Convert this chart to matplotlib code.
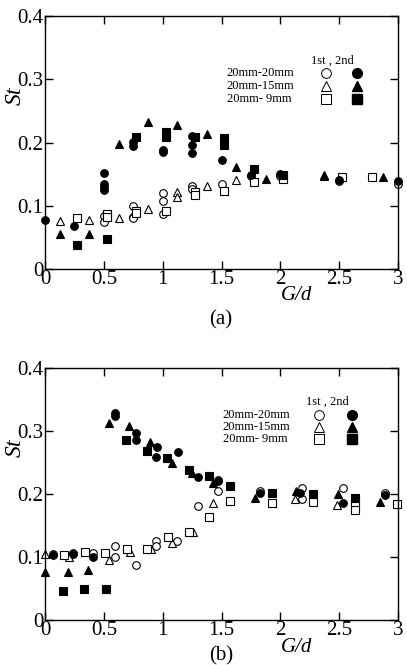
import matplotlib
matplotlib.use("Agg")
import matplotlib.pyplot as plt
from matplotlib.ticker import FuncFormatter

plt.rcParams['font.family'] = ['Liberation Serif', 'DejaVu Serif']

# ---------------- Panel (a) data ----------------
a_c1_x = [0.5, 0.5, 0.75, 0.75, 0.75, 1.0, 1.0, 1.0, 1.25, 1.25, 1.5, 1.75, 2.0, 2.5, 3.0]
a_c1_y = [0.084, 0.075, 0.100, 0.083, 0.080, 0.120, 0.107, 0.087, 0.131, 0.126, 0.134, 0.147, 0.147, 0.139, 0.134]
a_c2_x = [0.0, 0.25, 0.5, 0.5, 0.5, 0.5, 0.75, 0.75, 1.0, 1.0, 1.25, 1.25, 1.25, 1.5, 1.75, 2.0, 2.5, 3.0]
a_c2_y = [0.077, 0.068, 0.152, 0.134, 0.130, 0.125, 0.201, 0.194, 0.188, 0.185, 0.211, 0.196, 0.184, 0.172, 0.149, 0.150, 0.141, 0.139]
a_t1_x = [0.125, 0.375, 0.625, 0.875, 1.125, 1.125, 1.375, 1.625, 2.375]
a_t1_y = [0.076, 0.077, 0.081, 0.095, 0.121, 0.114, 0.131, 0.140, 0.147]
a_t2_x = [0.125, 0.375, 0.625, 0.875, 1.125, 1.375, 1.625, 1.875, 2.375, 2.875]
a_t2_y = [0.055, 0.056, 0.198, 0.232, 0.228, 0.213, 0.162, 0.143, 0.149, 0.146]
a_s1_x = [0.275, 0.525, 0.525, 0.775, 0.775, 1.025, 1.275, 1.275, 1.525, 1.775, 2.025, 2.525, 2.775]
a_s1_y = [0.080, 0.087, 0.082, 0.092, 0.088, 0.091, 0.121, 0.117, 0.124, 0.137, 0.142, 0.146, 0.145]
a_s2_x = [0.275, 0.525, 0.775, 1.025, 1.025, 1.275, 1.525, 1.525, 1.775, 2.025]
a_s2_y = [0.038, 0.048, 0.209, 0.216, 0.208, 0.209, 0.207, 0.196, 0.158, 0.149]

# ---------------- Panel (b) data ----------------
b_c1_x = [0.065, 0.241, 0.41, 0.595, 0.595, 0.77, 0.943, 0.943, 1.124, 1.297, 1.47, 1.47, 1.827, 2.18, 2.18, 2.535, 2.889]
b_c1_y = [0.105, 0.106, 0.107, 0.117, 0.100, 0.087, 0.126, 0.117, 0.126, 0.181, 0.222, 0.204, 0.204, 0.209, 0.192, 0.209, 0.202]
b_c2_x = [0.065, 0.241, 0.41, 0.595, 0.595, 0.773, 0.773, 0.949, 0.943, 1.127, 1.303, 1.47, 1.827, 2.167, 2.535, 2.889]
b_c2_y = [0.103, 0.104, 0.100, 0.329, 0.324, 0.297, 0.285, 0.275, 0.259, 0.266, 0.227, 0.220, 0.202, 0.201, 0.185, 0.198]
b_t1_x = [0.0, 0.2, 0.544, 0.722, 0.9, 1.076, 1.255, 1.43, 2.124, 2.478]
b_t1_y = [0.105, 0.100, 0.096, 0.108, 0.112, 0.123, 0.139, 0.186, 0.192, 0.183]
b_t2_x = [0.0, 0.198, 0.368, 0.544, 0.716, 0.892, 1.076, 1.25, 1.43, 1.784, 2.133, 2.49, 2.846]
b_t2_y = [0.076, 0.076, 0.079, 0.312, 0.308, 0.283, 0.250, 0.234, 0.217, 0.193, 0.204, 0.200, 0.187]
b_s1_x = [0.161, 0.34, 0.51, 0.694, 0.869, 1.048, 1.223, 1.396, 1.572, 1.926, 2.28, 2.634, 2.634, 2.988]
b_s1_y = [0.103, 0.108, 0.107, 0.112, 0.112, 0.131, 0.139, 0.164, 0.189, 0.186, 0.188, 0.184, 0.175, 0.184]
b_s2_x = [0.156, 0.334, 0.515, 0.688, 0.864, 1.034, 1.223, 1.396, 1.572, 1.926, 2.28, 2.634]
b_s2_y = [0.046, 0.049, 0.049, 0.286, 0.269, 0.257, 0.238, 0.228, 0.212, 0.201, 0.200, 0.194]

x_ticks = [0, 0.5, 1, 1.5, 2, 2.5, 3]
y_ticks = [0, 0.1, 0.2, 0.3, 0.4]
legend_rows = ["20mm-20mm", "20mm-15mm", "20mm- 9mm"]
legend_head = "1st , 2nd"
markers = ['o', '^', 's']

W, H = 407, 665
fig = plt.figure(figsize=(W / 100, H / 100), dpi=100)


def axes_px(left, top, right, bottom):
    return fig.add_axes([left / W, 1 - bottom / H, (right - left) / W, (bottom - top) / H])


ax_a = axes_px(45, 16, 398, 269)
ax_b = axes_px(45, 368, 398, 620)

fmt = FuncFormatter(lambda v, p: '%g' % v)

def style(ax):
    ax.set_xlim(0, 3)
    ax.set_ylim(0, 0.4)
    ax.set_xticks(x_ticks)
    ax.set_yticks(y_ticks)
    ax.xaxis.set_major_formatter(fmt)
    ax.yaxis.set_major_formatter(fmt)
    ax.tick_params(direction='in', length=6, width=1, top=True, right=True,
                   labelsize=15)
    ax.tick_params(axis='x', pad=1)
    ax.tick_params(axis='y', pad=1)
    for s in ax.spines.values():
        s.set_linewidth(1.0)
    for lab in ax.get_yticklabels() + ax.get_xticklabels():
        lab.set_clip_on(False)


def draw(ax, series):
    ms = 5.5
    for (x, y, m, filled) in series:
        ax.plot(x, y, linestyle='none', marker=m, markersize=ms,
                markerfacecolor='black' if filled else 'white',
                markeredgecolor='black', markeredgewidth=0.8, clip_on=False,
                zorder=3 if filled else 2)


draw(ax_a, [(a_c1_x, a_c1_y, 'o', False), (a_t1_x, a_t1_y, '^', False), (a_s1_x, a_s1_y, 's', False),
            (a_c2_x, a_c2_y, 'o', True), (a_t2_x, a_t2_y, '^', True), (a_s2_x, a_s2_y, 's', True)])
draw(ax_b, [(b_c1_x, b_c1_y, 'o', False), (b_t1_x, b_t1_y, '^', False), (b_s1_x, b_s1_y, 's', False),
            (b_c2_x, b_c2_y, 'o', True), (b_t2_x, b_t2_y, '^', True), (b_s2_x, b_s2_y, 's', True)])

for ax in (ax_a, ax_b):
    style(ax)


def legend(ax, tx, hx, hy, rows_y, mx1, mx2):
    ax.text(hx, hy, legend_head, transform=ax.transAxes, ha='center', va='center', fontsize=9)
    for lab, yy, m in zip(legend_rows, rows_y, markers):
        ax.text(tx, yy, lab, transform=ax.transAxes, ha='left', va='center', fontsize=9)
        ax.plot([mx1], [yy], transform=ax.transAxes, marker=m, markersize=7,
                markerfacecolor='white', markeredgecolor='black', markeredgewidth=0.7, clip_on=False)
        ax.plot([mx2], [yy], transform=ax.transAxes, marker=m, markersize=7,
                markerfacecolor='black', markeredgecolor='black', clip_on=False)


legend(ax_a, 0.515, 0.814, 0.822, [0.776, 0.722, 0.672], 0.796, 0.883)
legend(ax_b, 0.503, 0.800, 0.866, [0.8135, 0.7647, 0.717], 0.776, 0.869)

# axis labels
for ax, gy, py, lab in ((ax_a, 296, 320, '(a)'), (ax_b, 648, 656, '(b)')):
    fig.text(297 / W, 1 - gy / H, 'G/d', style='italic', fontsize=15, ha='center', va='center')
    fig.text(221 / W, 1 - py / H, lab, fontsize=15, ha='center', va='center')

fig.text(15 / W, 1 - 96 / H, 'St', style='italic', fontsize=17, rotation=90, ha='center', va='center')
fig.text(15 / W, 1 - 448 / H, 'St', style='italic', fontsize=17, rotation=90, ha='center', va='center')

fig.savefig('out.png', dpi=100)
